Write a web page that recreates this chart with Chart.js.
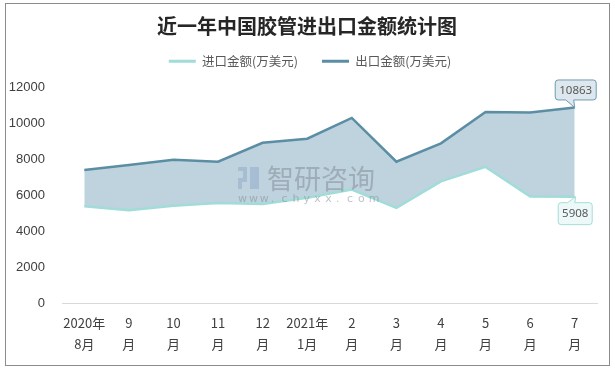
<!DOCTYPE html>
<html lang="zh">
<head>
<meta charset="UTF-8">
<title>近一年中国胶管进出口金额统计图</title>
<script src="https://cdn.jsdelivr.net/npm/chart.js"></script>
<style>
    body { margin: 0; background: #fff; }
    #wrap { width: 615px; height: 369px; }
</style>
</head>
<body>
<div id="wrap"><canvas id="chart" width="615" height="369"></canvas></div>
<script>
    // 数据（万美元）
    const categories = [
        ['2020年', '8月'], ['9', '月'], ['10', '月'], ['11', '月'], ['12', '月'], ['2021年', '1月'],
        ['2', '月'], ['3', '月'], ['4', '月'], ['5', '月'], ['6', '月'], ['7', '月']
    ];
    const importValues = [5370, 5150, 5400, 5550, 5500, 5850, 6300, 5280, 6760, 7560, 5920, 5908];
    const exportValues = [7390, 7670, 7960, 7850, 8900, 9130, 10280, 7850, 8870, 10610, 10590, 10863];
    const yMax = 12000;
    const yStep = 2000;

    const importColor = '#a0dcd8';
    const exportColor = '#5b8ea5';
    const areaColor = '#bed3dd';
    const cjk = '"Noto Sans CJK SC", "Noto Sans", sans-serif';

    // 外框 + 白底
    const frame = {
        id: 'frame',
        beforeDraw(chart) {
            const ctx = chart.ctx;
            ctx.save();
            ctx.fillStyle = '#fff';
            ctx.fillRect(0, 0, chart.width, chart.height);
            ctx.strokeStyle = '#8c8c8c';
            ctx.lineWidth = 1;
            ctx.strokeRect(5.5, 3.5, 604, 362);
            ctx.restore();
        }
    };

    // 标题和图例稍向右移，与原图居中位置一致
    const nudge = {
        id: 'nudge',
        afterLayout(chart) {
            if (chart.legend) { chart.legend.left += 9; chart.legend.right += 9; }
            if (chart.titleBlock) { chart.titleBlock.left += 6; chart.titleBlock.right += 6; }
        }
    };

    // 水印
    const watermark = {
        id: 'watermark',
        afterDatasetsDraw(chart) {
            const ctx = chart.ctx;
            ctx.save();
            ctx.globalAlpha = 0.5;
            ctx.fillStyle = '#8fa8cc';
            ctx.fillRect(238, 167, 9, 4);
            ctx.fillRect(243, 171, 4, 7);
            ctx.fillRect(238, 178, 9, 4);
            ctx.fillRect(238, 182, 4, 7);
            ctx.fillRect(250, 167, 9, 22);
            ctx.fillStyle = '#7d8791';
            ctx.font = '27px ' + cjk;
            ctx.textBaseline = 'middle';
            ctx.fillText('智研咨询', 267, 179);
            ctx.font = '11px "DejaVu Sans", sans-serif';
            const s = 'www.chyxx.com';
            for (let i = 0; i < s.length; i++) {
                ctx.fillText(s[i], 238 + i * 10.9, 199);
            }
            ctx.restore();
        }
    };

    function bubble(ctx, x, y, w, h, r, tail) {
        ctx.beginPath();
        ctx.moveTo(x + r, y);
        if (tail.side === 'top') { ctx.lineTo(tail.x1, y); ctx.lineTo(tail.tx, tail.ty); ctx.lineTo(tail.x2, y); }
        ctx.lineTo(x + w - r, y); ctx.arcTo(x + w, y, x + w, y + r, r);
        ctx.lineTo(x + w, y + h - r); ctx.arcTo(x + w, y + h, x + w - r, y + h, r);
        if (tail.side === 'bottom') { ctx.lineTo(tail.x2, y + h); ctx.lineTo(tail.tx, tail.ty); ctx.lineTo(tail.x1, y + h); }
        ctx.lineTo(x + r, y + h); ctx.arcTo(x, y + h, x, y + h - r, r);
        ctx.lineTo(x, y + r); ctx.arcTo(x, y, x + r, y, r);
        ctx.closePath();
    }

    // 末端数据标注
    const callouts = {
        id: 'callouts',
        afterDatasetsDraw(chart) {
            const ctx = chart.ctx;
            const last = categories.length - 1;
            ctx.save();
            ctx.font = '11.5px "Noto Sans", sans-serif';
            ctx.textAlign = 'center';
            ctx.textBaseline = 'middle';
            ctx.lineWidth = 1;

            // 出口
            let p = chart.getDatasetMeta(1).data[last];
            let bx = p.x - 19.5, by = p.y - 27.5;
            bubble(ctx, bx, by, 41, 20, 3, { side: 'bottom', x1: p.x - 9, x2: p.x - 1, tx: p.x, ty: p.y });
            ctx.fillStyle = '#dde7ed';
            ctx.strokeStyle = '#6e9cb1';
            ctx.fill(); ctx.stroke();
            ctx.fillStyle = '#595959';
            ctx.fillText(String(exportValues[last]), bx + 20.5, by + 10.5);

            // 进口
            p = chart.getDatasetMeta(0).data[last];
            bx = p.x - 16.5; by = p.y + 6;
            bubble(ctx, bx, by, 34, 22, 3, { side: 'top', x1: p.x - 7, x2: p.x, tx: p.x + 1, ty: p.y });
            ctx.fillStyle = '#edf8f8';
            ctx.strokeStyle = '#a6dcd9';
            ctx.fill(); ctx.stroke();
            ctx.fillStyle = '#595959';
            ctx.fillText(String(importValues[last]), bx + 17, by + 11.5);
            ctx.restore();
        }
    };

    new Chart(document.getElementById('chart'), {
        type: 'line',
        data: {
            labels: categories,
            datasets: [
                {
                    label: '进口金额(万美元)',
                    data: importValues,
                    xAxisID: 'x',
                    yAxisID: 'y',
                    borderColor: importColor,
                    backgroundColor: importColor,
                    borderWidth: 2.5,
                    pointRadius: 0,
                    tension: 0,
                    fill: false
                },
                {
                    label: '出口金额(万美元)',
                    data: exportValues,
                    xAxisID: 'x',
                    yAxisID: 'y',
                    borderColor: exportColor,
                    backgroundColor: areaColor,
                    borderWidth: 2.5,
                    pointRadius: 0,
                    tension: 0,
                    fill: '-1'
                }
            ]
        },
        options: {
            responsive: false,
            animation: false,
            events: [],
            layout: { padding: { top: 21, left: 5, right: 18, bottom: 14 } },
            plugins: {
                filler: { drawTime: 'beforeDatasetsDraw' },
                title: {
                    display: true,
                    text: '近一年中国胶管进出口金额统计图',
                    color: '#262626',
                    font: { family: cjk, size: 20, weight: 'bold', lineHeight: 0.5 },
                    padding: 0
                },
                legend: {
                    display: true,
                    labels: {
                        color: '#595959',
                        font: { family: cjk, size: 12.5 },
                        boxWidth: 27,
                        boxHeight: 3,
                        padding: 24,
                        generateLabels(chart) {
                            return chart.data.datasets.map((ds, i) => ({
                                text: ds.label,
                                fillStyle: ds.borderColor,
                                strokeStyle: ds.borderColor,
                                lineWidth: 0,
                                datasetIndex: i,
                                fontColor: '#595959'
                            }));
                        }
                    }
                },
                tooltip: { enabled: false }
            },
            scales: {
                x: {
                    offset: true,
                    grid: { display: true, drawOnChartArea: false, drawTicks: false },
                    border: { display: true, color: '#d9d9d9', width: 1 },
                    ticks: {
                        color: '#404040',
                        font: { family: cjk, size: 13, lineHeight: 1.6 },
                        padding: 10,
                        maxRotation: 0,
                        autoSkip: false
                    },
                    afterFit(scale) { scale.height = 52; }
                },
                y: {
                    min: 0,
                    max: yMax,
                    grid: { display: false, drawTicks: false },
                    border: { display: false },
                    ticks: {
                        stepSize: yStep,
                        color: '#404040',
                        font: { family: '"Liberation Sans", sans-serif', size: 13 },
                        padding: 17,
                        callback: (v) => String(v)
                    },
                    afterFit(scale) { scale.width = 57; }
                },
                // 图例与绘图区之间的留白
                gap: {
                    type: 'category',
                    position: 'top',
                    display: true,
                    grid: { display: false, drawTicks: false },
                    border: { display: false },
                    ticks: { display: false },
                    afterFit(scale) { scale.height = 9.5; }
                }
            }
        },
        plugins: [frame, nudge, watermark, callouts]
    });
</script>
</body>
</html>
